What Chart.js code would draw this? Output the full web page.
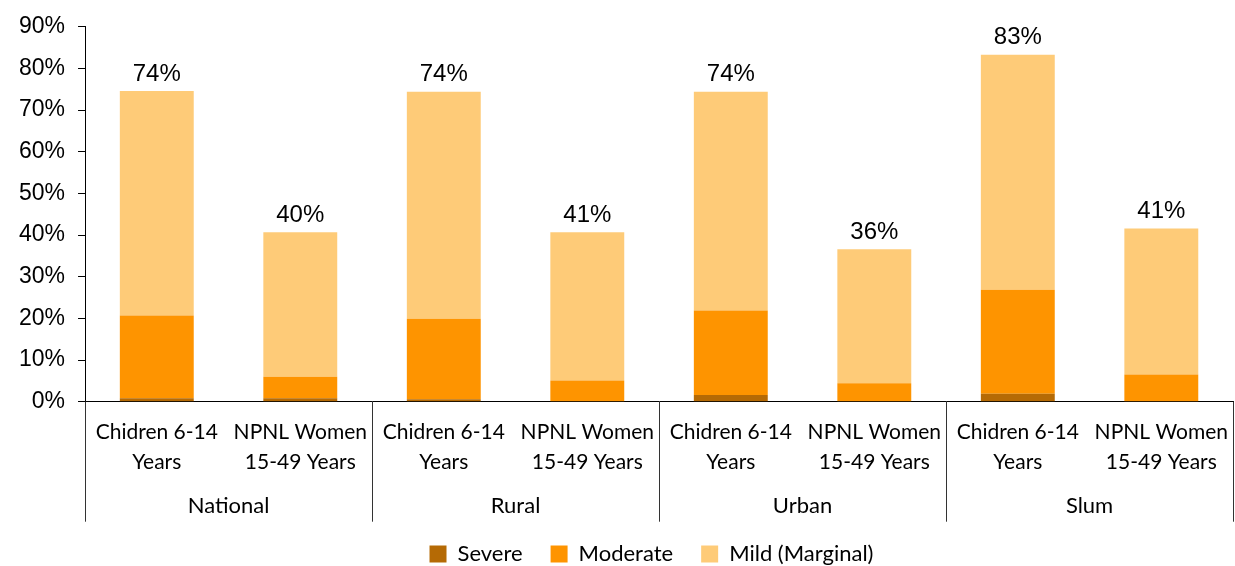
<!DOCTYPE html>
<html>
<head>
<meta charset="utf-8">
<script src="https://cdn.jsdelivr.net/npm/chart.js@4"></script>
<style>
  html, body { margin: 0; padding: 0; background: #fff; }
  #wrap { width: 1235px; height: 566px; }
</style>
</head>
<body>
<div id="wrap"><canvas id="chart"></canvas></div>
<script>
const groups = ['National', 'Rural', 'Urban', 'Slum'];
const categories = [
  ['Chidren 6-14', 'Years'], ['NPNL Women', '15-49 Years'],
  ['Chidren 6-14', 'Years'], ['NPNL Women', '15-49 Years'],
  ['Chidren 6-14', 'Years'], ['NPNL Women', '15-49 Years'],
  ['Chidren 6-14', 'Years'], ['NPNL Women', '15-49 Years']
];
const severe   = [0.8, 0.8, 0.6, 0.1, 1.6, 0.1, 1.9, 0.1];
const moderate = [19.9, 5.2, 19.3, 5.0, 20.3, 4.3, 25.0, 6.4];
const mild     = [53.9, 34.7, 54.5, 35.6, 52.5, 32.2, 56.4, 35.1];
const totalLabels = ['74%', '40%', '74%', '41%', '74%', '36%', '83%', '41%'];
const yTicks = [0, 10, 20, 30, 40, 50, 60, 70, 80, 90];

const labelFont = 'Lato, "Open Sans", sans-serif';
const numFont = '"Liberation Sans", Arial, sans-serif';

// totals above bars + group separators below the axis
const extras = {
  id: 'extras',
  afterLayout(chart) {
    // legend sits a little right of centre in the original
    chart.legend.left += 26;
    chart.legend.right += 26;
  },
  afterDatasetsDraw(chart) {
    const ctx = chart.ctx;
    const top = chart.getDatasetMeta(2);
    ctx.save();
    ctx.fillStyle = '#000';
    ctx.font = '24px ' + numFont;
    ctx.textAlign = 'center';
    ctx.textBaseline = 'bottom';
    top.data.forEach((bar, i) => {
      ctx.fillText(totalLabels[i], bar.x, bar.y - 5);
    });
    ctx.restore();
  },
  afterDraw(chart) {
    const ctx = chart.ctx;
    const x = chart.scales.x;
    const y0 = chart.chartArea.bottom;
    const step = (x.getPixelForValue(1) - x.getPixelForValue(0));
    ctx.save();
    ctx.strokeStyle = '#333';
    ctx.lineWidth = 1;
    for (let g = 0; g <= groups.length; g++) {
      const px = Math.round(x.getPixelForValue(g * 2) - step / 2) + 0.5;
      ctx.beginPath();
      ctx.moveTo(px, y0);
      ctx.lineTo(px, y0 + 120);
      ctx.stroke();
    }
    ctx.restore();
  }
};

new Chart(document.getElementById('chart'), {
  type: 'bar',
  data: {
    labels: categories,
    datasets: [
      { label: 'Severe', data: severe, backgroundColor: '#b56a05' },
      { label: 'Moderate', data: moderate, backgroundColor: '#fe9400' },
      { label: 'Mild (Marginal)', data: mild, backgroundColor: '#fecb78' }
    ]
  },
  options: {
    responsive: true,
    maintainAspectRatio: false,
    animation: false,
    datasets: { bar: { barPercentage: 0.515, categoryPercentage: 1 } },
    layout: { padding: { top: 26, right: -10, left: 6, bottom: -9 } },
    plugins: {
      tooltip: { enabled: false },
      legend: {
        position: 'bottom',
        labels: {
          color: '#000',
          boxWidth: 17,
          boxHeight: 17,
          padding: 28,
          font: { family: labelFont, size: 22 }
        }
      }
    },
    scales: {
      x: {
        stacked: true,
        grid: { display: false },
        border: { display: true, color: '#000', width: 1 },
        ticks: {
          color: '#000',
          maxRotation: 0,
          autoSkip: false,
          padding: 7,
          font: { family: labelFont, size: 21, lineHeight: 1.45 }
        }
      },
      x2: {
        type: 'category',
        labels: groups,
        position: 'bottom',
        grid: { display: false },
        border: { display: false },
        afterFit: axis => { axis.height -= 4; },
        ticks: {
          color: '#000',
          padding: 0,
          font: { family: labelFont, size: 22 }
        }
      },
      y: {
        stacked: true,
        min: 0,
        max: 90,
        afterBuildTicks: axis => { axis.ticks = yTicks.map(v => ({ value: v })); },
        grid: { drawOnChartArea: false, drawTicks: true, tickLength: 7, color: '#000' },
        border: { display: true, color: '#000', width: 1 },
        ticks: {
          color: '#000',
          padding: 13,
          font: { family: numFont, size: 23 },
          callback: v => v + '%'
        }
      }
    }
  },
  plugins: [extras]
});
</script>
</body>
</html>
